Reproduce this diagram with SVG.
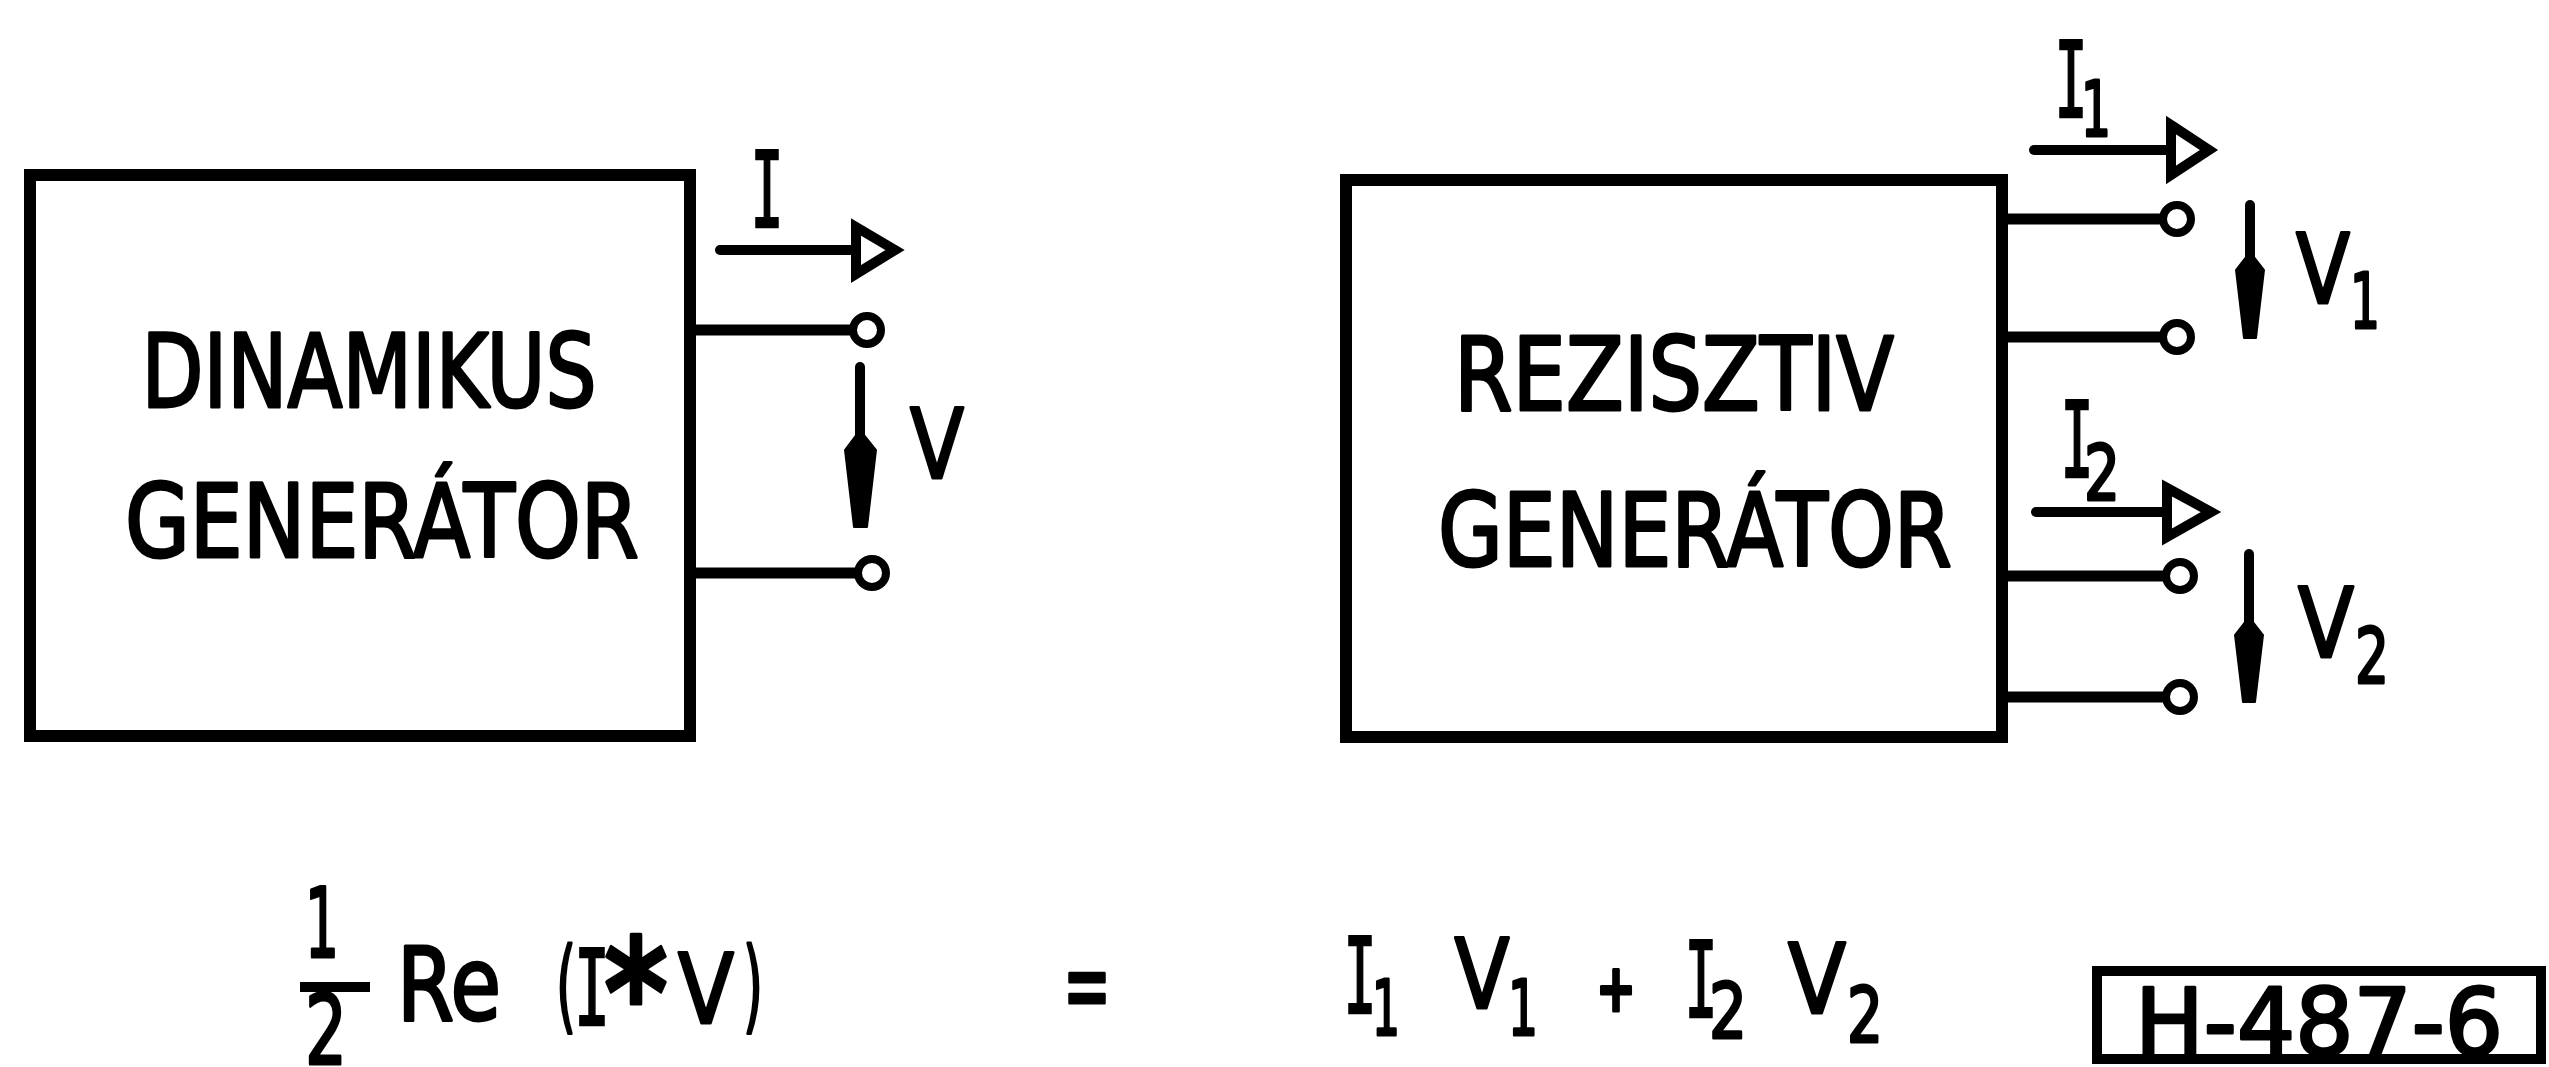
<svg xmlns="http://www.w3.org/2000/svg" width="2549" height="1067" viewBox="0 0 2549 1067">
<style>
.box{fill:#fff;stroke:#000;stroke-width:12;stroke-linejoin:miter}
.wire{stroke:#000;stroke-width:11;fill:none;stroke-linecap:butt}
.aline{stroke:#000;stroke-width:10;fill:none;stroke-linecap:round}
.tri{fill:#fff;stroke:#000;stroke-width:10;stroke-linejoin:miter}
.term{fill:#fff;stroke:#000;stroke-width:8}
.head{fill:#000;stroke:#000;stroke-width:2;stroke-linejoin:round}
.t{font-family:"DejaVu Sans","Liberation Sans",sans-serif;fill:#000;stroke:#000;stroke-width:3;stroke-linejoin:round}
.big{font-size:101px}
.lab{font-size:97px}
.sub{font-size:76px}
.ser{font-family:"DejaVu Sans Mono","Liberation Mono",monospace;font-size:105px;fill:#000;stroke:#000;stroke-width:2.5}
</style>
<rect width="2549" height="1067" fill="#fff"/>

<g id="node-dinamikus">
<rect class="box" x="30" y="175" width="660" height="561"/>
<text class="t big" x="369" y="407" text-anchor="middle" textLength="455" lengthAdjust="spacingAndGlyphs">DINAMIKUS</text>
<text class="t big" x="382" y="557" text-anchor="middle" textLength="514" lengthAdjust="spacingAndGlyphs">GENERÁTOR</text>
</g>

<g id="node-rezisztiv">
<rect class="box" x="1346" y="180" width="656" height="557"/>
<text class="t big" x="1674" y="410" text-anchor="middle" textLength="440" lengthAdjust="spacingAndGlyphs">REZISZTIV</text>
<text class="t big" x="1695" y="566" text-anchor="middle" textLength="514" lengthAdjust="spacingAndGlyphs">GENERÁTOR</text>
</g>

<g id="connectors">
<line class="wire" x1="690" y1="330" x2="853" y2="330"/>
<circle class="term" cx="867" cy="330" r="14"/>
<line class="wire" x1="690" y1="573" x2="858" y2="573"/>
<circle class="term" cx="872" cy="573" r="14"/>
<line class="aline" x1="720" y1="250" x2="856" y2="250"/>
<polygon class="tri" points="856,227 895,250 856,274"/>
<line class="aline" x1="860" y1="367" x2="860" y2="445"/>
<polygon class="head" points="860,430 876,450 867,527 854,527 845,450"/>

<line class="wire" x1="2002" y1="219" x2="2163" y2="219"/>
<circle class="term" cx="2177" cy="219" r="14"/>
<line class="wire" x1="2002" y1="337" x2="2163" y2="337"/>
<circle class="term" cx="2177" cy="337" r="14"/>
<line class="wire" x1="2002" y1="576" x2="2166" y2="576"/>
<circle class="term" cx="2180" cy="576" r="14"/>
<line class="wire" x1="2002" y1="697" x2="2166" y2="697"/>
<circle class="term" cx="2180" cy="697" r="14"/>
<line class="aline" x1="2034" y1="150" x2="2170" y2="150"/>
<polygon class="tri" points="2171,125 2209,150 2171,175"/>
<line class="aline" x1="2036" y1="512" x2="2167" y2="512"/>
<polygon class="tri" points="2167,488 2211,512 2167,537"/>
<line class="aline" x1="2250" y1="205" x2="2250" y2="265"/>
<polygon class="head" points="2250,252 2264,270 2256,338 2244,338 2236,270"/>
<line class="aline" x1="2249" y1="554" x2="2249" y2="630"/>
<polygon class="head" points="2249,617 2263,635 2255,702 2243,702 2235,635"/>
</g>

<g id="labels">
<text class="ser" x="767" y="227" text-anchor="middle" textLength="33" lengthAdjust="spacingAndGlyphs">I</text>
<text class="t lab" x="937" y="478" text-anchor="middle" textLength="54" lengthAdjust="spacingAndGlyphs">V</text>

<text class="ser" x="2071" y="117" text-anchor="middle" textLength="33" lengthAdjust="spacingAndGlyphs">I</text>
<text class="t sub" x="2096" y="136" text-anchor="middle" textLength="30" lengthAdjust="spacingAndGlyphs">1</text>

<text class="ser" x="2077" y="477" text-anchor="middle" textLength="33" lengthAdjust="spacingAndGlyphs">I</text>
<text class="t sub" x="2102" y="500" text-anchor="middle" textLength="36" lengthAdjust="spacingAndGlyphs">2</text>

<text class="t lab" x="2323" y="303" text-anchor="middle" textLength="54" lengthAdjust="spacingAndGlyphs">V</text>
<text class="t sub" x="2365" y="328" text-anchor="middle" textLength="30" lengthAdjust="spacingAndGlyphs">1</text>

<text class="t lab" x="2326" y="657" text-anchor="middle" textLength="56" lengthAdjust="spacingAndGlyphs">V</text>
<text class="t sub" x="2372" y="683" text-anchor="middle" textLength="34" lengthAdjust="spacingAndGlyphs">2</text>
</g>

<g id="formula">
<text class="t lab" x="322" y="957" text-anchor="middle" textLength="34" lengthAdjust="spacingAndGlyphs">1</text>
<line x1="300" y1="987" x2="370" y2="987" stroke="#000" stroke-width="10"/>
<text class="t lab" x="326" y="1064" text-anchor="middle" textLength="42" lengthAdjust="spacingAndGlyphs">2</text>
<text class="t big" x="449" y="1020" text-anchor="middle" textLength="104" lengthAdjust="spacingAndGlyphs">Re</text>
<text class="t big" x="566" y="1020" text-anchor="middle" textLength="20" lengthAdjust="spacingAndGlyphs">(</text>
<text class="ser" x="592" y="1025" text-anchor="middle" textLength="36" lengthAdjust="spacingAndGlyphs">I</text>
<text class="t" x="636" y="1046" font-size="150" font-weight="bold" text-anchor="middle" textLength="64" lengthAdjust="spacingAndGlyphs">*</text>
<text class="t lab" x="706" y="1023" text-anchor="middle" textLength="56" lengthAdjust="spacingAndGlyphs">V</text>
<text class="t big" x="753" y="1020" text-anchor="middle" textLength="20" lengthAdjust="spacingAndGlyphs">)</text>

<text class="t" x="1087" y="1021" font-size="105" text-anchor="middle" textLength="48" lengthAdjust="spacingAndGlyphs">=</text>

<text class="ser" x="1360" y="1013" text-anchor="middle" textLength="33" lengthAdjust="spacingAndGlyphs">I</text>
<text class="t sub" x="1386" y="1035" text-anchor="middle" textLength="28" lengthAdjust="spacingAndGlyphs">1</text>
<text class="t lab" x="1482" y="1008" text-anchor="middle" textLength="55" lengthAdjust="spacingAndGlyphs">V</text>
<text class="t sub" x="1523" y="1035" text-anchor="middle" textLength="30" lengthAdjust="spacingAndGlyphs">1</text>
<text class="t" x="1616" y="1011" font-size="66" font-weight="bold" text-anchor="middle" textLength="40" lengthAdjust="spacingAndGlyphs">+</text>
<text class="ser" x="1701" y="1017" text-anchor="middle" textLength="33" lengthAdjust="spacingAndGlyphs">I</text>
<text class="t sub" x="1728" y="1038" text-anchor="middle" textLength="38" lengthAdjust="spacingAndGlyphs">2</text>
<text class="t lab" x="1817" y="1013" text-anchor="middle" textLength="58" lengthAdjust="spacingAndGlyphs">V</text>
<text class="t sub" x="1865" y="1042" text-anchor="middle" textLength="36" lengthAdjust="spacingAndGlyphs">2</text>
</g>

<g id="tag">
<rect x="2097" y="971" width="444" height="88" fill="none" stroke="#000" stroke-width="10"/>
<text class="t" x="2319" y="1055" font-size="93" text-anchor="middle" textLength="368" lengthAdjust="spacingAndGlyphs">H-487-6</text>
</g>
</svg>
